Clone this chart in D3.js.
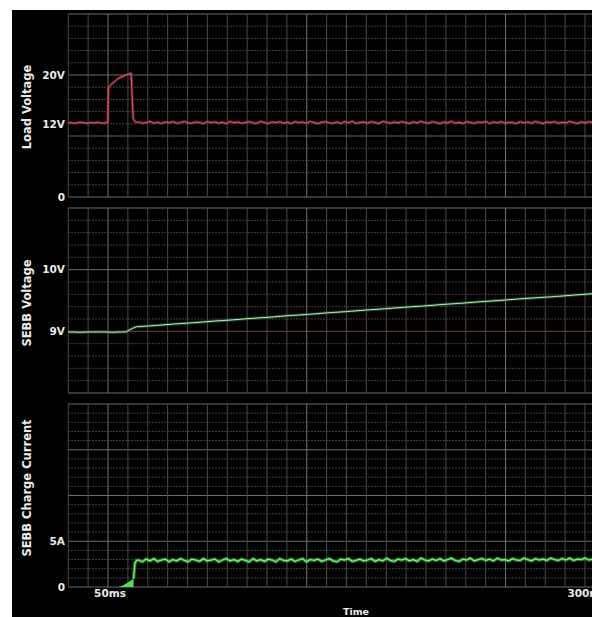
<!DOCTYPE html>
<html>
<head>
<meta charset="utf-8">
<script src="https://cdn.jsdelivr.net/npm/d3@7"></script>
<style>
  html, body { margin: 0; padding: 0; background: #fff; }
  svg { display: block; }
  text { font-family: "DejaVu Sans", Verdana, sans-serif; font-weight: bold; fill: #ececec; }
</style>
</head>
<body>
<svg id="chart" width="592" height="617"></svg>
<script>
// ---- time axis (ms) ----
const xTickMs = [50, 300];
const xTickLabels = ["50ms", "300ms"];
const gridStepMs = 250 / 24;           // scope division

// ---- Load Voltage (V) ----
const loadHeadMs = [29, 31, 33, 35, 37, 39, 41, 43, 45, 47, 49.9, 50.2, 51.2, 52.6, 54.5, 56.3, 58.2, 60, 61.2, 62.1, 63.2, 64.2, 65.5];
const loadHeadV  = [12.2, 12.15, 12.1, 12.25, 12.2, 12.1, 12.2, 12.15, 12.25, 12.1, 12.2, 17.9, 18.3, 18.7, 19.2, 19.6, 19.85, 20.05, 20.2, 20.3, 12.9, 12.35, 12.2];
const tailMs = [66,68,70,72,74,76,78,80,82,84,86,88,90,92,94,96,98,100,102,104,
                106,108,110,112,114,116,118,120,122,124,126,128,130,132,134,136,138,140,142,144,
                146,148,150,152,154,156,158,160,162,164,166,168,170,172,174,176,178,180,182,184,
                186,188,190,192,194,196,198,200,202,204,206,208,210,212,214,216,218,220,222,224,
                226,228,230,232,234,236,238,240,242,244,246,248,250,252,254,256,258,260,262,264,
                266,268,270,272,274,276,278,280,282,284,286,288,290,292,294,296,298,300,302,304];
const loadTailV = [12.3,12.1,12.2,12.4,12.1,12.25,12.05,12.3,12.15,12.35,
                   12.1,12.2,12.4,12.15,12.1,12.3,12.2,12.05,12.35,12.2,
                   12.3,12.1,12.25,12.05,12.4,12.15,12.3,12.1,12.2,12.35,
                   12.15,12.1,12.4,12.2,12.05,12.3,12.2,12.35,12.1,12.25,
                   12.05,12.35,12.2,12.3,12.1,12.4,12.2,12.05,12.25,12.35,
                   12.15,12.1,12.3,12.05,12.35,12.2,12.4,12.1,12.2,12.3,
                   12.1,12.35,12.2,12.05,12.4,12.25,12.1,12.3,12.15,12.35,
                   12.2,12.05,12.3,12.15,12.4,12.2,12.1,12.35,12.2,12.05,
                   12.3,12.15,12.4,12.1,12.25,12.05,12.35,12.2,12.1,12.3,
                   12.2,12.4,12.05,12.3,12.15,12.35,12.1,12.25,12.2,12.05,
                   12.35,12.15,12.3,12.1,12.4,12.2,12.05,12.3,12.2,12.35,
                   12.1,12.25,12.15,12.4,12.2,12.05,12.3,12.15,12.35,12.2];

// ---- SEBB Voltage (V) ----
const sebbMs = [29, 35, 41, 47, 53, 57, 59.5, 61, 63, 65, 75, 85, 95, 105, 115, 125, 135, 145, 155, 165,
                175, 185, 195, 205, 215, 225, 235, 245, 255, 265, 275, 285, 295, 304];
const sebbV  = [8.99, 8.985, 8.99, 8.99, 8.985, 8.99, 8.99, 9.02, 9.05, 9.075, 9.095, 9.12, 9.14, 9.165, 9.185, 9.21, 9.23, 9.255, 9.275, 9.3,
                9.32, 9.345, 9.365, 9.39, 9.41, 9.435, 9.455, 9.48, 9.5, 9.525, 9.545, 9.565, 9.59, 9.61];

// ---- SEBB Charge Current (A) ----
const rampMs = [55.8, 58, 60, 62, 63.4];          // switching envelope before full charge
const rampA  = [0, 0.2, 0.45, 0.72, 0.92];
const currHeadMs = [63.4, 64.1, 65];
const currHeadA  = [0.92, 2.6, 2.9];
const currTailA = [2.95,2.75,3.05,2.85,3.1,2.8,2.95,3.05,2.75,3.0,
                   2.85,3.1,2.9,2.75,3.05,2.95,2.8,3.1,2.85,2.95,
                   3.05,2.75,2.95,3.1,2.85,3.0,2.8,3.05,2.9,2.75,
                   3.1,2.85,3.0,2.8,3.05,2.95,2.75,3.1,2.9,2.85,
                   3.05,2.8,2.95,3.1,2.75,3.0,2.9,3.05,2.8,2.95,
                   3.1,2.85,2.75,3.05,2.95,3.1,2.8,2.9,3.05,2.85,
                   2.95,3.1,2.8,3.0,2.85,3.15,2.9,2.8,3.05,2.95,
                   3.1,2.85,3.0,2.8,3.15,2.95,2.85,3.05,2.9,3.1,
                   2.85,3.0,3.15,2.9,2.8,3.05,2.95,3.15,2.85,3.0,
                   3.1,2.9,3.05,2.85,3.15,2.95,3.0,2.85,3.1,2.95,
                   2.9,3.15,3.0,2.85,3.1,2.95,3.05,2.9,3.15,3.0,
                   2.9,3.1,2.95,3.15,2.9,3.05,3.0,3.15,2.95,3.05];

const svg = d3.select("#chart");
const W = 592, H = 617;

svg.append("rect").attr("x", 0).attr("y", 0).attr("width", W).attr("height", H).attr("fill", "#fff");
svg.append("rect").attr("x", 12).attr("y", 10).attr("width", W - 12).attr("height", H - 10).attr("fill", "#000");

const x = d3.scaleLinear().domain([50, 300]).range([108, 585]);
const plotLeft = 68, plotRight = W;

const panels = [
  { title: "Load Voltage", top: 14, bottom: 197, domain: [0, 30], major: 10, minor: 2,
    ticks: [0, 12, 20], labels: ["0", "12V", "20V"], titleY: 107,
    tint: { value: 10, color: "#4f6f6c" } },
  { title: "SEBB Voltage", top: 208, bottom: 393, domain: [8, 11], major: 1, minor: 0.2,
    ticks: [9, 10], labels: ["9V", "10V"], titleY: 303,
    tint: { value: 9, color: "#6e4440" } },
  { title: "SEBB Charge Current", top: 404, bottom: 587, domain: [0, 20], major: 5, minor: 1,
    ticks: [0, 5], labels: ["0", "5A"], titleY: 488 }
];

const gridTimes = d3.range(-2, 27).map(k => 50 + k * gridStepMs);

panels.forEach((p, i) => {
  p.y = d3.scaleLinear().domain(p.domain).range([p.bottom, p.top]);
  const g = svg.append("g");

  const clipId = "clip" + i;
  svg.append("clipPath").attr("id", clipId)
    .append("rect").attr("x", plotLeft).attr("y", p.top - 1)
    .attr("width", plotRight - plotLeft).attr("height", p.bottom - p.top + 2);
  p.clip = "url(#" + clipId + ")";

  // horizontal grid
  const nH = Math.round((p.domain[1] - p.domain[0]) / p.minor);
  const hVals = d3.range(0, nH + 1).map(k => p.domain[0] + k * p.minor);
  const isMajor = d => Math.abs(d / p.major - Math.round(d / p.major)) < 1e-6;
  g.selectAll(".hg").data(hVals).join("line")
    .attr("x1", plotLeft).attr("x2", plotRight)
    .attr("y1", d => p.y(d)).attr("y2", d => p.y(d))
    .attr("stroke", d => {
      if (p.tint && Math.abs(d - p.tint.value) < 1e-6) return p.tint.color;
      return isMajor(d) ? "#6c6c6c" : "#3e3e3e";
    })
    .attr("stroke-width", 1)
    .attr("stroke-dasharray", d => isMajor(d) ? null : "2,1");

  // vertical grid
  g.selectAll(".vg").data(gridTimes.filter(t => x(t) >= plotLeft - 0.5 && x(t) <= plotRight)).join("line")
    .attr("x1", d => x(d)).attr("x2", d => x(d))
    .attr("y1", p.top).attr("y2", p.bottom)
    .attr("stroke", d => Math.abs(((d - 50) / gridStepMs) % 10) < 1e-6 ? "#727272" : "#4a4a4a")
    .attr("stroke-width", 1);

  // tick labels
  g.selectAll(".tl").data(p.ticks).join("text")
    .attr("x", 65).attr("y", d => p.y(d)).attr("dy", "0.36em")
    .attr("text-anchor", "end").attr("font-size", 10.5)
    .text((d, j) => p.labels[j]);

  // title
  svg.append("text")
    .attr("transform", `translate(27,${p.titleY}) rotate(-90)`)
    .attr("text-anchor", "middle").attr("dy", "0.36em")
    .attr("font-size", 11.5)
    .text(p.title);
});

// x-axis labels
svg.selectAll(".xt").data(xTickMs).join("text")
  .attr("x", d => x(d) + 2).attr("y", 597)
  .attr("text-anchor", "middle").attr("font-size", 10.5)
  .text((d, i) => xTickLabels[i]);
svg.append("text").attr("x", 356).attr("y", 615).attr("text-anchor", "middle")
  .attr("font-size", 9.5).text("Time");

// traces
function drawTrace(panel, ms, vals, outer, core, wOuter, wCore) {
  const pts = ms.map((t, i) => [t, vals[i]]);
  const line = d3.line().x(d => x(d[0])).y(d => panel.y(d[1]));
  const g = svg.append("g").attr("clip-path", panel.clip);
  g.append("path").attr("d", line(pts)).attr("fill", "none")
    .attr("stroke", outer).attr("stroke-width", wOuter).attr("stroke-opacity", 0.6)
    .attr("stroke-linejoin", "round");
  g.append("path").attr("d", line(pts)).attr("fill", "none")
    .attr("stroke", core).attr("stroke-width", wCore)
    .attr("stroke-linejoin", "round");
}

const p1 = panels[0], p2 = panels[1], p3 = panels[2];

drawTrace(p1, loadHeadMs.concat(tailMs), loadHeadV.concat(loadTailV), "#9a2434", "#d86474", 3, 1);
drawTrace(p2, sebbMs, sebbV, "#2a6e3c", "#bfe8c4", 3, 1);

// current: switching envelope drawn as filled area
const rampPts = rampMs.map((t, i) => [t, rampA[i]]);
svg.append("path")
  .attr("clip-path", p3.clip)
  .attr("d", d3.area().x(d => x(d[0])).y0(p3.y(0)).y1(d => p3.y(d[1]))(rampPts))
  .attr("fill", "#55e055");
drawTrace(p3, currHeadMs.concat(tailMs), currHeadA.concat(currTailA), "#36b837", "#7ef07e", 3.5, 1.3);
</script>
</body>
</html>
